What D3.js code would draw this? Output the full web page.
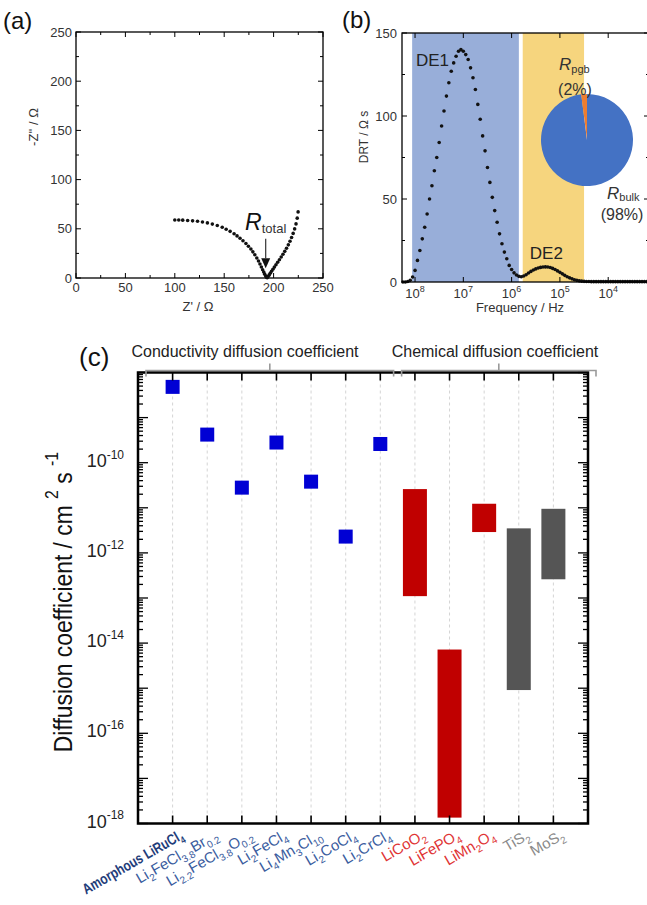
<!DOCTYPE html>
<meta charset="utf-8">
<style>
body { margin: 0; background: #fff; }
svg text { font-family: "Liberation Sans", Arial, sans-serif; }
</style>
<body>
<script src="https://d3js.org/d3.v7.min.js"></script>
<script>

var width = 647
var height = 905

// ---------- data ----------

// (a) Nyquist plot, Z' and -Z'' in ohm
var nyqRe = [100,104,108,113,118,123,128,133,138,143,148,152,156,160,163,166,169,172,174.5,177,
  179,181,183,184.7,186.2,187.6,188.9,190,191,192,192.8,193.5,
  194.3,195.4,196.6,197.9,199.3,200.8,202.4,204.1,205.9,207.7,209.5,211.3,213.1,214.9,216.6,
  218.2,219.8,221.3,222.7,223.9,224.8]
var nyqIm = [59,58.9,58.8,58.5,58.1,57.6,56.9,56,54.8,53.3,51.5,49.6,47.4,45,42.8,40.4,37.8,35,32.3,29.4,
  26.6,23.6,20.4,17.3,14.2,11.2,8.4,6,3.9,2.1,0.8,0.3,
  1.2,2.9,4.8,6.8,8.9,11.1,13.5,16,18.6,21.3,24.1,27.1,30.3,33.7,37.3,
  41.1,45.3,49.9,55,60.8,67.2]
var rTotal = 192

// (b) distribution of relaxation times
var drtLogF = [8.25,8.2,8.15,8.1,8.05,8,7.95,7.9,7.85,7.8,7.75,7.7,7.65,7.6,7.55,7.5,7.45,7.4,7.35,7.3,
  7.25,7.2,7.15,7.1,7.05,7,6.95,6.9,6.85,6.8,6.75,6.7,6.65,6.6,6.55,6.5,6.45,6.4,6.35,6.3,
  6.25,6.2,6.15,6.1,6.05,6,5.95,5.9,5.85,5.8,5.75,5.7,5.65,5.6,5.55,5.5,5.45,5.4,5.35,5.3,
  5.25,5.2,5.15,5.1,5.05,5,4.95,4.9,4.85,4.8,4.75,4.7,4.65,4.6,4.55,4.5,4.45,4.4,4.35,4.3,
  4.25,4.2,4.15,4.1,4.05,4,3.95,3.9,3.85,3.8,3.75,3.7,3.65,3.6,3.55,3.5,3.45,3.4,3.35,3.3,
  3.25,3.2]
var drtVal = [0,0,0.3,1,3,7,13,19,26,33,41,50,58,67,75,84,94,103,112,120,
  127,132,136,139,140,139,137,134,129,123,116,107,98,88,79,69,60,51,43,36,
  29,23,18,14,10,7.5,5.5,4.2,3.4,3.2,3.6,4.4,5.4,6.4,7.2,7.9,8.4,8.8,9,9.1,
  9,8.7,8.2,7.5,6.7,5.8,4.9,4,3.2,2.5,1.9,1.4,1,0.7,0.5,0.4,0.3,0.3,0.2,0.2,
  0.2,0.2,0.2,0.2,0.2,0.2,0.2,0.2,0.2,0.2,0.2,0.2,0.2,0.2,0.2,0.2,0.2,0.2,0.2,0.2,
  0.2,0.2]
var bandLogF = [[8.06, 5.85], [5.77, 4.5]]
var bandColors = ["#98aed9", "#f6d57e"]
var xTicksB = [8, 7, 6, 5, 4]
var pieShare = [98, 2]
var pieColors = ["#4472c4", "#ed7d31"]

// (c) diffusion coefficients, cm2 s-1
var materials = ["Amorphous LiRuCl4", "Li2FeCl3.8Br0.2", "Li2.2FeCl3.8O0.2", "Li2FeCl4",
  "Li4Mn3Cl10", "Li2CoCl4", "Li2CrCl4", "LiCoO2", "LiFePO4", "LiMn2O4", "TiS2", "MoS2"]
var materialGroup = ["amorphous", "halide", "halide", "halide", "halide", "halide", "halide",
  "oxide", "oxide", "oxide", "sulfide", "sulfide"]
var condMaterials = materials.slice(0, 7)
var condD = [4.8e-9, 4.2e-10, 2.8e-11, 2.8e-10, 3.8e-11, 2.3e-12, 2.6e-10]
var chemMaterials = materials.slice(7)
var chemLo = [1.1e-13, 1.35e-18, 2.9e-12, 9.1e-16, 2.6e-13]
var chemHi = [2.6e-11, 7.2e-15, 1.23e-11, 3.5e-12, 9.5e-12]
var yLabelExp = [-10, -12, -14, -16, -18]

var labelColor = {amorphous: "#1f3d7a", halide: "#3a5c9e", oxide: "#e03434", sulfide: "#8a8a8a"}
var barColor = {oxide: "#c00000", sulfide: "#555555"}

// ---------- helpers ----------

var svg = d3.select("body").append("svg")
    .attr("width", width)
    .attr("height", height)

function pow10Label(sel, exp, size, supSize) {
  sel.append("tspan").attr("font-size", size).text("10")
  sel.append("tspan").attr("font-size", supSize).attr("dy", -size * 0.45).text(exp)
}

function chemLabel(sel, str, size, subSize) {
  var parts = str.match(/[0-9.]+|[^0-9.]+/g)
  var down = false
  parts.forEach(function(p) {
    var sub = /^[0-9.]+$/.test(p)
    var dy = 0
    if (sub && !down) { dy = size * 0.28; down = true }
    else if (!sub && down) { dy = -size * 0.28; down = false }
    sel.append("tspan")
      .attr("font-size", sub ? subSize : size)
      .attr("dy", dy)
      .text(p)
  })
}

// ticks drawn inward from a box edge
function edgeTicks(g, pos, side, box, width_) {
  g.selectAll(null).data(pos).enter().append("line")
    .attr("x1", function(d) { return side == "left" ? box.x0 : side == "right" ? box.x1 : d.p })
    .attr("x2", function(d) { return side == "left" ? box.x0 + d.len : side == "right" ? box.x1 - d.len : d.p })
    .attr("y1", function(d) { return side == "top" ? box.y0 : side == "bottom" ? box.y1 : d.p })
    .attr("y2", function(d) { return side == "top" ? box.y0 + d.len : side == "bottom" ? box.y1 - d.len : d.p })
    .attr("stroke", "#000")
    .attr("stroke-width", width_ || 1)
}

// ---------- (a) Nyquist ----------

var ax = d3.scaleLinear().domain([0, 250]).range([76, 323])
var ay = d3.scaleLinear().domain([0, 250]).range([278, 32])
var boxA = {x0: ax(0), x1: ax(250), y0: ay(250), y1: ay(0)}
var ga = svg.append("g")

var tickA = d3.range(0, 251, 25)
var xTA = tickA.map(function(v) { return {p: ax(v), len: v % 50 ? 3 : 5} })
var yTA = tickA.map(function(v) { return {p: ay(v), len: v % 50 ? 3 : 5} })
edgeTicks(ga, xTA, "bottom", boxA)
edgeTicks(ga, xTA, "top", boxA)
edgeTicks(ga, yTA, "left", boxA)
edgeTicks(ga, yTA, "right", boxA)

ga.append("rect")
    .attr("x", boxA.x0).attr("y", boxA.y0)
    .attr("width", boxA.x1 - boxA.x0).attr("height", boxA.y1 - boxA.y0)
    .attr("fill", "none").attr("stroke", "#000").attr("stroke-width", 1.3)

ga.selectAll(".xl").data(d3.range(0, 251, 50)).enter().append("text")
    .attr("x", function(d) { return ax(d) })
    .attr("y", boxA.y1 + 14)
    .attr("text-anchor", "middle")
    .attr("font-size", 13)
    .attr("fill", "#333")
    .text(function(d) { return d })
ga.selectAll(".yl").data(d3.range(0, 251, 50)).enter().append("text")
    .attr("x", boxA.x0 - 4)
    .attr("y", function(d) { return ay(d) })
    .attr("dy", "0.35em")
    .attr("text-anchor", "end")
    .attr("font-size", 13)
    .attr("fill", "#333")
    .text(function(d) { return d })

ga.append("text").attr("x", 198).attr("y", 311)
    .attr("text-anchor", "middle").attr("font-size", 13).attr("fill", "#333")
    .text("Z' / \u03a9")
ga.append("text").attr("transform", "translate(38,127) rotate(-90)")
    .attr("text-anchor", "middle").attr("font-size", 13).attr("fill", "#333")
    .text("-Z'' / \u03a9")

ga.selectAll(".pt").data(nyqRe).enter().append("circle")
    .attr("cx", function(d) { return ax(d) })
    .attr("cy", function(d, i) { return ay(nyqIm[i]) })
    .attr("r", 1.8)
    .attr("fill", "#111")

var arX = ax(rTotal)
ga.append("line").attr("x1", arX).attr("x2", arX)
    .attr("y1", ay(40)).attr("y2", ay(20))
    .attr("stroke", "#333").attr("stroke-width", 1.2)
ga.append("path")
    .attr("d", "M" + (arX - 4.5) + "," + ay(20) + "L" + (arX + 4.5) + "," + ay(20) + "L" + arX + "," + ay(10) + "Z")
    .attr("fill", "#111")
var rt = ga.append("text").attr("x", arX).attr("y", ay(49)).attr("text-anchor", "middle").attr("fill", "#111")
rt.append("tspan").attr("font-size", 23).attr("font-style", "italic").text("R")
rt.append("tspan").attr("font-size", 13).attr("dy", 3).attr("fill", "#333").text("total")

svg.append("text").attr("x", 3).attr("y", 29).attr("font-size", 24).attr("fill", "#111").text("(a)")

// ---------- (b) DRT ----------

var bx = d3.scaleLog().domain([Math.pow(10, 8.27), Math.pow(10, 3.155)]).range([402, 649])
var by = d3.scaleLinear().domain([0, 150]).range([282, 33])
var boxB = {x0: 402, x1: 649, y0: by(150), y1: by(0)}
var gb = svg.append("g")

gb.selectAll(".band").data(bandLogF).enter().append("rect")
    .attr("x", function(d) { return bx(Math.pow(10, d[0])) })
    .attr("width", function(d) { return bx(Math.pow(10, d[1])) - bx(Math.pow(10, d[0])) })
    .attr("y", boxB.y0)
    .attr("height", boxB.y1 - boxB.y0)
    .attr("fill", function(d, i) { return bandColors[i] })

var xTB = xTicksB.map(function(e) { return {p: bx(Math.pow(10, e)), len: 5} })
var yTB = d3.range(0, 151, 25).map(function(v) { return {p: by(v), len: v % 50 ? 3 : 5} })
edgeTicks(gb, xTB, "bottom", boxB)
edgeTicks(gb, xTB, "top", boxB)
edgeTicks(gb, yTB, "left", boxB)
edgeTicks(gb, yTB, "right", boxB)

gb.selectAll(".pt").data(drtLogF).enter().append("circle")
    .attr("cx", function(d) { return bx(Math.pow(10, d)) })
    .attr("cy", function(d, i) { return by(drtVal[i]) })
    .attr("r", 1.8)
    .attr("fill", "#111")

gb.append("rect")
    .attr("x", boxB.x0).attr("y", boxB.y0)
    .attr("width", boxB.x1 - boxB.x0).attr("height", boxB.y1 - boxB.y0)
    .attr("fill", "none").attr("stroke", "#000").attr("stroke-width", 1.3)

gb.selectAll(".yl").data(d3.range(0, 151, 50)).enter().append("text")
    .attr("x", boxB.x0 - 5)
    .attr("y", function(d) { return by(d) })
    .attr("dy", "0.35em")
    .attr("text-anchor", "end")
    .attr("font-size", 13)
    .attr("fill", "#333")
    .text(function(d) { return d })
xTicksB.forEach(function(e) {
  var t = gb.append("text").attr("x", bx(Math.pow(10, e))).attr("y", boxB.y1 + 16)
      .attr("text-anchor", "middle").attr("fill", "#333")
  pow10Label(t, e, 13, 9)
})
gb.append("text").attr("x", 520).attr("y", 312)
    .attr("text-anchor", "middle").attr("font-size", 13).attr("fill", "#333")
    .text("Frequency / Hz")
gb.append("text").attr("transform", "translate(368,137) rotate(-90)")
    .attr("text-anchor", "middle").attr("font-size", 12).attr("fill", "#333")
    .text("DRT / \u03a9 s")

gb.append("text").attr("x", bx(Math.pow(10, 7.98))).attr("y", by(130))
    .attr("font-size", 17).attr("fill", "#222").text("DE1")
gb.append("text").attr("x", bx(Math.pow(10, 5.28))).attr("y", by(14))
    .attr("text-anchor", "middle").attr("font-size", 17).attr("fill", "#222").text("DE2")

// pie of resistances
var pie = d3.pie().sort(null)
var arc = d3.arc().innerRadius(0).outerRadius(46)
gb.append("g").attr("transform", "translate(587,140)")
  .selectAll("path").data(pie(pieShare)).enter().append("path")
    .attr("d", arc)
    .attr("fill", function(d, i) { return pieColors[i] })

var tp = gb.append("text").attr("x", 559).attr("y", 70).attr("fill", "#333")
tp.append("tspan").attr("font-size", 17).attr("font-style", "italic").text("R")
tp.append("tspan").attr("font-size", 11).attr("dy", 3).text("pgb")
gb.append("text").attr("x", 575).attr("y", 95).attr("text-anchor", "middle")
    .attr("font-size", 16).attr("fill", "#333").text("(2%)")
var tbk = gb.append("text").attr("x", 607).attr("y", 199).attr("fill", "#333")
tbk.append("tspan").attr("font-size", 17).attr("font-style", "italic").text("R")
tbk.append("tspan").attr("font-size", 11).attr("dy", 2).text("bulk")
gb.append("text").attr("x", 622).attr("y", 220).attr("text-anchor", "middle")
    .attr("font-size", 16).attr("fill", "#333").text("(98%)")

svg.append("text").attr("x", 342).attr("y", 28).attr("font-size", 24).attr("fill", "#111").text("(b)")

// ---------- (c) diffusion coefficients ----------

var cx = d3.scalePoint().domain(materials).range([138, 588]).padding(1)
var cy = d3.scaleLog().domain([1e-18, 1e-8]).range([823.5, 372.5])
var boxC = {x0: 138, x1: 588, y0: cy(1e-8), y1: cy(1e-18)}
var gc = svg.append("g")

gc.selectAll(".grid").data(materials).enter().append("line")
    .attr("x1", function(d) { return cx(d) }).attr("x2", function(d) { return cx(d) })
    .attr("y1", boxC.y0).attr("y2", boxC.y1)
    .attr("stroke", "#d4d4d4").attr("stroke-dasharray", "3,3")

gc.selectAll(".bar").data(chemMaterials).enter().append("rect")
    .attr("x", function(d) { return cx(d) - 12 })
    .attr("width", 24)
    .attr("y", function(d, i) { return cy(chemHi[i]) })
    .attr("height", function(d, i) { return cy(chemLo[i]) - cy(chemHi[i]) })
    .attr("fill", function(d) { return barColor[materialGroup[materials.indexOf(d)]] })

gc.selectAll(".sq").data(condMaterials).enter().append("rect")
    .attr("x", function(d) { return cx(d) - 7 })
    .attr("y", function(d, i) { return cy(condD[i]) - 7 })
    .attr("width", 14).attr("height", 14)
    .attr("fill", "#0000d4")

var yTC = []
d3.range(-18, -7).forEach(function(e) {
  yTC.push({p: cy(Math.pow(10, e)), len: 10})
  if (e < -8) d3.range(2, 10).forEach(function(k) { yTC.push({p: cy(k * Math.pow(10, e)), len: 5}) })
})
var xTC = materials.map(function(m) { return {p: cx(m), len: 8} })
edgeTicks(gc, yTC, "left", boxC, 1.3)
edgeTicks(gc, yTC, "right", boxC, 1.3)
edgeTicks(gc, xTC, "top", boxC, 1.6)
edgeTicks(gc, xTC, "bottom", boxC, 1.6)

gc.append("rect")
    .attr("x", boxC.x0).attr("y", boxC.y0)
    .attr("width", boxC.x1 - boxC.x0).attr("height", boxC.y1 - boxC.y0)
    .attr("fill", "none").attr("stroke", "#000").attr("stroke-width", 2.5)

yLabelExp.forEach(function(e) {
  var t = gc.append("text").attr("x", boxC.x0 - 14).attr("y", cy(Math.pow(10, e)) + 4)
      .attr("text-anchor", "end").attr("fill", "#222")
  pow10Label(t, e, 18, 12)
})

var yt = gc.append("text")
    .attr("transform", "translate(72,602) rotate(-90) scale(0.88,1)")
    .attr("text-anchor", "middle").attr("fill", "#111").attr("font-size", 26)
yt.append("tspan").text("Diffusion coefficient / cm ")
yt.append("tspan").attr("font-size", 18).attr("dy", -14).text("2")
yt.append("tspan").attr("dy", 14).text(" s ")
yt.append("tspan").attr("font-size", 18).attr("dy", -14).text("-1")

materials.forEach(function(m, i) {
  var g = materialGroup[i]
  var t = gc.append("text")
      .attr("transform", "translate(" + (cx(m) + 12) + "," + 838 + ") rotate(-30)" +
        (g == "amorphous" ? " scale(0.8,1)" : ""))
      .attr("dy", "0.72em")
      .attr("text-anchor", "end")
      .attr("fill", labelColor[g])
      .attr("font-weight", g == "amorphous" ? "bold" : null)
  chemLabel(t, m, 15, 10)
})

// group brackets above the panel
var midC = (cx(materials[6]) + cx(materials[7])) / 2
var brackets = [[boxC.x0 + 8, midC - 4], [midC + 4, boxC.x1 + 8]]
var bracketText = ["Conductivity diffusion coefficient", "Chemical diffusion coefficient"]
var bracketTextX = [245, 495]
brackets.forEach(function(b, i) {
  var yb = boxC.y0 - 2, m = (b[0] + b[1]) / 2
  gc.append("path")
      .attr("d", "M" + b[0] + "," + (yb + 6) + "V" + yb + "H" + b[1] + "V" + (yb + 6) +
        "M" + m + "," + yb + "V" + (yb - 7))
      .attr("fill", "none").attr("stroke", "#9a9a9a").attr("stroke-width", 1.6)
  gc.append("text").attr("x", bracketTextX[i]).attr("y", 357)
      .attr("text-anchor", "middle").attr("font-size", 16).attr("fill", "#222")
      .text(bracketText[i])
})

svg.append("text").attr("x", 79).attr("y", 366).attr("font-size", 26).attr("fill", "#111").text("(c)")

</script>
